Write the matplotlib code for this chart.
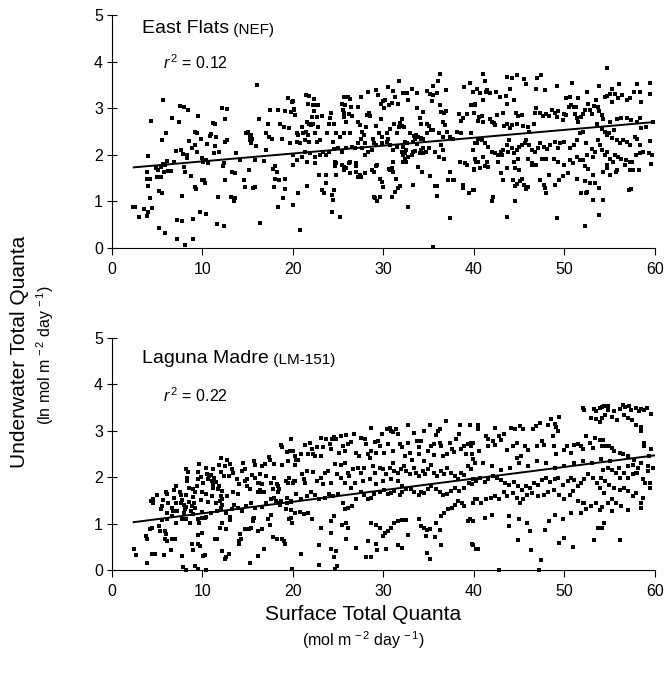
import matplotlib
matplotlib.use("Agg")
import matplotlib.pyplot as plt

plt.rcParams['font.family'] = ['Liberation Sans', 'DejaVu Sans']
plt.rcParams['mathtext.fontset'] = 'custom'
plt.rcParams['mathtext.rm'] = 'Liberation Sans'
plt.rcParams['mathtext.it'] = 'Liberation Sans:italic'

# ---------------- data: East Flats (NEF) ----------------
nef_pts_low_x = [
(2.32,0.87),(2.5,0.87),(3.0,0.66),(3.5,0.84),(3.9,0.69),(3.98,0.77),(4.2,1.07),(4.45,0.85),(4.0,1.33),(3.9,1.49),
(4.2,1.49),(3.9,1.64),(4.0,1.98),(4.35,2.72),(5.2,1.23),(5.5,1.17),(5.2,0.42),(5.9,0.33),(5.6,3.17),(5.5,2.32),
(6.0,2.46),(4.9,1.71),(5.1,1.67),(5.0,1.52),(5.4,1.52),(5.45,1.73),(5.6,1.8),(5.75,1.64),(5.9,1.78),(6.2,1.66),
(6.1,1.87),(6.5,1.65),(6.6,2.78),(6.9,1.85),(7.2,0.61),(7.7,0.58),(7.2,0.2),(7.5,3.04),(7.95,3.02),(8.4,2.96),
(7.4,2.7),(7.1,2.08),(7.6,2.1),(7.7,1.11),(7.85,2.01),(7.95,1.73),(8.1,1.64),(8.1,0.06),(8.25,2.0),(8.3,1.93),
(8.5,2.3),(8.7,1.54),(8.8,2.15),(8.95,0.63),(8.95,0.2),(9.15,1.3),(9.2,2.5),(9.2,2.21),(9.3,1.26),(9.4,2.47),
(9.4,2.07),(9.5,2.83),(9.7,0.78),(9.8,2.35),(9.9,1.46),(10.0,1.93),(10.2,1.47),(10.3,1.4),(10.4,0.74),(10.05,1.84),
(10.4,1.89),(10.5,2.23),(10.6,1.82),(10.8,2.4),(10.97,2.45),(11.16,2.68),(11.4,2.67),(11.4,2.18),(11.3,2.03),(11.5,2.39),
(11.6,0.52),(11.7,1.1),(11.8,2.07),(12.2,3.0),(12.4,0.48),(12.5,1.47),(12.5,2.76),(12.5,2.28),(12.7,2.98),(12.7,2.32),
(12.3,1.76),(12.4,1.82),(13.2,1.09),(13.3,1.64),(13.5,1.0),(13.55,1.6),(13.6,1.07),(13.7,2.03),(14.1,1.89),(14.6,1.47),
(14.7,1.31),(14.8,2.46),(15.0,2.5),(15.1,1.67),(15.3,2.32),(15.4,2.25),(15.45,2.35),(15.2,2.4),(15.4,2.42),(15.6,1.28),
(15.8,1.31),(15.8,1.88),(15.95,2.19),(16.2,2.76),(16.4,0.54),(16.8,1.86),(17.05,2.1),(17.05,2.47),(17.2,2.67),(17.4,2.39),
(17.5,2.96),(17.7,2.35),(17.8,1.7),(17.9,1.31),(18.0,1.77),(18.0,1.49),(18.2,1.64),(18.4,0.89),(18.4,2.96),(18.5,1.47),
(18.6,2.67),(18.8,2.35),(18.9,1.07),(19.0,2.6),(19.1,1.26),(19.15,2.95),(19.15,1.49),(19.45,3.21),(19.6,2.57),(19.7,2.25),
(19.8,2.91),(19.9,3.14),(19.95,0.92),(19.95,2.0),(20.1,2.98),(20.4,2.46),(20.5,1.17),(16.0,3.5),
]
nef_pts_mid_x = [
(20.0,3.16),(20.1,2.96),(20.2,2.85),(21.4,3.28),(21.7,3.1),(22.3,3.19),(22.2,3.07),(22.5,3.07),(22.8,3.07),(22.3,2.95),
(22.1,2.82),(21.5,2.71),(21.8,2.67),(22.0,2.64),(22.2,2.66),(22.6,2.82),(23.2,2.83),(21.0,2.6),(21.15,2.46),(21.4,2.5),
(20.6,2.42),(20.4,2.28),(20.8,2.25),(21.3,2.32),(21.7,2.42),(21.8,2.28),(22.4,2.46),(22.6,2.28),(23.0,2.32),(22.8,2.6),
(23.8,2.47),(24.0,2.67),(24.2,2.9),(24.1,2.78),(24.5,2.67),(24.4,2.28),(25.4,3.1),(25.6,3.23),(25.7,3.07),(25.5,2.96),
(25.6,2.89),(25.6,2.82),(26.1,3.25),(26.3,3.19),(26.4,3.03),(26.2,2.87),(26.5,2.83),(25.9,2.71),(25.6,2.46),(26.3,2.46),
(25.2,2.39),(24.8,2.47),(27.2,3.02),(27.5,3.25),(27.2,2.71),(27.4,2.64),(27.6,2.5),(27.8,2.42),(28.1,2.6),(28.2,2.85),
(28.4,2.89),(28.5,2.83),(28.3,3.35),(27.5,2.33),(28.0,2.25),(28.8,2.35),(29.0,2.26),(29.2,2.62),(29.4,3.28),(29.7,3.09),
(29.7,2.76),(30.0,3.16),(30.2,3.18),(30.1,3.0),(30.6,3.07),(30.9,3.12),(31.3,3.23),(31.6,3.1),(31.8,2.69),(32.0,2.76),
(32.1,2.62),(32.3,2.59),(31.75,2.59),(31.5,2.46),(31.2,2.67),(30.7,2.55),(30.5,2.35),(30.35,2.46),(29.8,2.39),(29.5,2.46),
(32.7,3.18),(32.6,3.32),(32.2,3.32),(33.7,3.33),(33.7,3.0),(34.4,2.92),(34.0,2.78),(34.2,2.67),(34.8,2.67),(35.0,2.62),
(35.2,2.53),(35.1,3.3),(35.5,3.28),(35.4,3.16),(35.9,3.32),(36.2,3.07),(36.4,2.92),(36.7,2.89),(36.9,2.95),(36.6,2.71),
(36.8,2.64),(37.0,2.5),(37.3,2.39),(37.7,2.35),(38.1,2.5),(38.3,2.87),(38.6,2.73),(38.8,2.78),(39.2,2.87),(39.7,3.07),
(40.1,3.09),(38.6,2.46),(39.7,2.46),(40.1,2.25),(40.5,2.35),(33.4,2.4),(33.6,2.42),(33.85,2.39),(34.1,2.37),(34.4,2.35),
(32.9,2.46),(32.6,2.25),(32.4,2.28),(32.2,2.17),(32.0,2.07),(32.2,2.0),(32.4,1.92),(32.5,2.1),(31.5,2.17),(31.1,2.1),
(30.7,2.21),(30.35,2.28),(29.8,2.25),(29.2,2.21),(28.7,2.1),(28.3,2.07),(28.0,2.0),(27.6,2.14),(27.2,2.25),(26.85,2.14),
(26.5,2.17),(25.9,2.14),(25.4,2.07),(25.0,2.14),(24.5,2.12),(24.0,2.07),(23.35,2.07),(23.0,2.0),(22.4,1.96),(21.9,2.03),
(21.3,2.07),(21.0,1.96),(20.4,1.89),(20.0,1.78),(21.5,1.85),(22.4,1.82),(23.6,2.0),(24.6,1.85),(24.8,1.82),(25.4,1.78),
(25.6,1.73),(26.2,1.83),(27.0,1.75),(27.0,1.64),(27.4,1.57),(27.2,1.52),(27.5,1.53),(28.7,1.67),(28.9,1.64),(29.2,1.75),
(29.6,1.49),(29.8,1.42),(30.0,1.3),(30.7,1.67),(30.9,1.71),(31.1,1.85),(31.0,1.64),(30.6,1.69),(31.4,1.49),(31.65,1.28),
(31.8,1.32),(29.6,1.1),(29.1,1.07),(29.3,1.01),(28.9,1.1),(30.9,1.1),(31.3,1.21),(32.7,0.89),(33.3,1.35),(33.85,1.73),
(34.3,1.64),(34.4,2.03),(34.7,2.07),(35.0,2.14),(35.1,1.55),(35.7,1.33),(35.95,1.32),(35.9,1.12),(36.4,2.21),(36.6,2.1),
(36.7,1.92),(37.1,1.47),(37.3,1.64),(37.7,1.46),(37.8,1.47),(38.5,1.85),(38.75,1.35),(38.8,1.28),(39.0,1.82),(39.2,1.78),
(39.4,1.17),(39.5,1.17),(39.85,1.24),(40.0,1.69),(40.2,1.85),(37.35,0.64),(24.3,0.78),(25.2,0.66),(20.0,0.92),(20.8,0.39),
(23.4,1.17),(23.6,1.39),(23.2,1.24),(23.7,1.57),(24.3,1.14),(24.5,1.24),(24.4,1.03),(22.9,1.57),(21.6,1.32),(20.5,1.17),
(24.6,1.76),(24.8,1.57),(25.6,1.67),(25.9,1.71),(26.3,1.85),(27.0,1.82),(26.3,1.6),(28.0,1.6),(29.3,1.78),(32.4,2.03),
(32.2,1.85),(32.7,1.96),(33.5,2.09),(34.05,2.03),(34.2,2.1),(34.4,2.14),(35.7,2.05),(36.1,1.96),(36.6,2.39),(36.1,2.47),
(35.5,2.53),(34.8,2.46),(34.2,2.33),(33.7,2.23),(33.3,2.28),(33.5,2.35),(33.3,2.07),(33.1,2.0),(32.5,1.85),(35.5,0.02),
]
nef_pts_high_x = [
(40.1,3.07),(39.9,3.35),(40.7,3.32),(41.0,3.18),(41.3,3.35),(41.8,3.32),(42.4,3.35),(42.9,3.25),(43.5,3.26),(44.4,3.18),
(43.7,3.1),(40.0,2.89),(40.6,2.82),(40.85,2.83),(41.0,2.71),(40.4,2.73),(41.8,2.76),(42.0,2.71),(42.2,2.69),(42.3,2.64),
(42.6,2.85),(43.25,2.9),(43.3,2.62),(43.6,2.67),(44.0,2.57),(44.2,2.64),(44.6,2.89),(44.9,2.83),(45.3,2.85),(44.7,2.67),
(45.45,2.62),(46.0,2.59),(46.1,2.5),(46.6,2.67),(46.7,2.89),(46.9,3.0),(47.3,2.89),(47.6,2.83),(48.0,2.87),(48.3,2.83),
(48.6,2.96),(48.95,2.9),(49.2,2.82),(49.3,2.95),(49.95,2.87),(49.8,2.75),(50.2,2.85),(50.5,3.02),(50.7,3.07),(51.0,3.03),
(51.3,3.02),(51.2,2.87),(51.35,2.78),(51.5,2.71),(51.8,2.82),(52.1,2.87),(52.3,2.96),(52.6,3.1),(52.8,2.96),(53.0,2.87),
(53.3,3.05),(53.5,3.18),(53.7,3.03),(53.85,2.93),(54.1,2.85),(54.3,2.76),(54.5,3.23),(54.7,3.26),(55.0,3.3),(55.3,3.14),
(55.6,3.3),(55.9,3.21),(56.4,3.28),(56.9,3.18),(57.2,3.21),(57.7,3.35),(58.5,3.14),(58.35,3.35),(51.5,3.21),(50.6,3.23),
(50.2,3.21),(55.8,2.76),(56.3,2.78),(56.9,2.78),(57.4,2.75),(58.0,2.71),(58.35,2.78),(53.6,2.67),(55.0,2.71),(54.1,2.55),
(54.5,2.5),(54.7,2.42),(54.95,2.47),(55.2,2.37),(55.5,2.53),(55.8,2.32),(56.1,2.25),(56.5,2.32),(56.9,2.28),(57.2,2.21),
(57.8,2.39),(58.05,2.35),(58.35,2.21),(58.5,2.57),(53.7,2.32),(53.9,2.21),(54.2,2.1),(54.5,1.99),(54.7,2.07),(55.0,1.92),
(55.4,1.85),(55.6,1.99),(55.95,1.96),(56.3,1.92),(56.8,1.89),(57.2,1.85),(57.5,1.85),(57.9,1.99),(58.3,2.03),(58.7,2.07),
(59.3,2.03),(57.6,1.67),(58.2,1.67),(57.2,1.67),(56.7,1.78),(55.8,1.67),(54.7,1.78),(54.3,1.64),(53.2,1.96),(52.5,1.99),
(52.1,1.89),(52.3,1.76),(52.6,1.69),(53.4,2.07),(53.0,2.12),(52.4,2.25),(52.1,2.5),(51.7,2.46),(51.35,2.32),(51.05,2.21),
(50.6,2.14),(49.9,2.28),(49.5,2.25),(49.3,2.14),(48.95,2.28),(48.4,2.21),(48.1,2.12),(47.7,2.17),(47.3,2.25),(47.1,2.14),
(46.7,2.07),(46.4,2.1),(46.1,2.21),(45.8,2.32),(45.6,2.25),(45.3,2.21),(45.0,2.16),(44.7,2.1),(44.4,2.03),(44.2,2.14),
(43.9,2.32),(43.7,2.21),(43.25,2.1),(42.95,2.07),(42.7,2.0),(42.3,2.03),(41.95,2.07),(41.6,2.16),(41.2,2.25),(40.85,2.32),
(40.3,2.25),(39.9,2.1),(40.1,1.92),(40.5,1.85),(41.0,1.96),(41.4,1.85),(40.7,1.71),(41.2,1.76),(41.6,1.73),(42.7,1.85),
(43.1,2.0),(43.8,2.07),(44.4,1.85),(44.9,1.92),(46.0,1.92),(46.4,1.82),(46.9,1.78),(47.5,1.92),(48.0,1.92),(48.8,1.92),
(49.3,1.85),(49.9,1.78),(50.6,1.89),(51.35,1.96),(51.7,1.89),(40.0,1.67),(40.0,1.24),(42.1,1.1),(41.95,1.0),(42.95,1.6),
(43.2,1.47),(44.35,1.46),(44.5,1.32),(44.8,1.37),(45.1,1.44),(45.3,1.49),(45.5,1.35),(45.8,1.26),(46.0,1.3),(45.0,1.67),
(44.5,1.71),(43.7,1.71),(46.4,1.78),(47.3,1.46),(47.7,1.35),(47.85,1.28),(48.0,1.19),(48.3,1.57),(48.95,1.35),(49.4,1.46),
(49.8,1.55),(50.4,1.62),(50.9,1.82),(51.35,1.49),(51.8,1.17),(52.3,1.44),(52.5,1.21),(52.8,1.4),(53.2,1.57),(53.4,1.39),
(53.85,1.28),(54.3,1.03),(54.7,1.71),(55.0,1.57),(55.7,1.64),(57.1,1.24),(57.4,1.26),(43.6,0.67),(44.5,1.0),(49.2,0.64),
(52.3,0.47),(53.85,0.71),(53.1,1.04),(52.4,1.19),(59.0,2.6),(59.5,2.3),(59.7,2.0),(59.6,1.8),(59.4,3.3),(59.8,2.7),
]
nef_pts_top = [
(21.8,3.26),(31.7,3.58),(36.3,3.74),(41.0,3.74),(43.7,3.67),(44.2,3.65),(44.8,3.72),(45.5,3.62),(47.4,3.72),(47.0,3.64),
(54.7,3.87),(52.5,3.35),(56.0,3.52),(58.0,3.52),(59.4,3.55),(55.2,3.42),(39.6,3.55),(41.2,3.58),(38.9,3.45),(40.3,3.42),
(41.4,3.4),(35.5,3.47),(36.9,3.4),(34.8,3.37),(33.2,3.42),(30.5,3.45),(31.1,3.38),(29.2,3.4),(32.5,3.33),(36.0,3.58),
(44.0,3.42),(47.8,3.4),(50.8,3.55),(49.2,3.47),(45.7,3.51),(46.9,3.42),(53.8,3.47),
]
nef_fit = [0.0169, 1.69]   # slope, intercept
nef_r2 = "0.12"

# ---------------- data: Laguna Madre (LM-151) ----------------
lm_pts_low_x = [
(2.45,0.46),(2.63,0.32),(3.92,0.16),(4.77,0.34),(4.4,0.35),(5.77,0.32),(4.18,0.89),(4.4,0.91),(3.81,0.73),(3.92,0.66),
(4.48,1.45),(4.55,1.54),(4.29,1.49),(4.92,1.61),(5.21,0.95),(5.29,0.84),(5.58,1.08),(5.4,1.31),(5.66,1.51),(5.95,1.68),
(6.13,1.63),(6.24,1.45),(5.88,0.84),(5.88,0.66),(6.13,0.62),(6.5,0.44),(6.02,0.77),(6.61,0.67),(6.98,0.67),(7.79,0.3),
(7.87,0.07),(8.16,0.01),(6.13,1.09),(6.61,1.16),(6.69,1.27),(7.13,1.27),(7.05,1.44),(7.61,1.45),(6.87,1.56),(6.87,1.72),
(7.05,1.8),(7.5,1.68),(8.16,1.61),(8.34,1.99),(8.34,1.92),(8.45,2.11),(8.16,2.17),(7.61,1.61),(7.79,1.51),(7.98,1.39),
(8.09,1.31),(8.23,1.36),(8.53,1.46),(8.82,1.38),(9.08,1.44),(9.19,1.34),(8.97,1.58),(9.19,1.67),(9.34,1.8),(9.45,1.95),
(9.56,2.11),(9.82,2.01),(10.08,1.88),(10.0,1.67),(9.82,1.51),(9.93,1.25),(10.3,1.11),(10.44,1.15),(9.93,0.79),(9.56,0.75),
(9.45,0.55),(9.71,0.52),(8.82,0.57),(8.97,0.44),(10.08,0.3),(10.3,0.32),(9.45,0.03),(10.44,0.01),(9.19,0.09),(10.55,2.06),
(10.66,1.95),(10.74,2.02),(10.92,2.04),(11.03,1.92),(11.18,1.85),(11.11,1.77),(11.29,1.99),(11.47,1.9),(11.66,1.74),(11.84,1.82),
(12.03,1.59),(11.92,1.49),(12.21,1.52),(12.21,1.41),(10.66,1.46),(11.03,1.59),(11.47,1.45),(12.03,2.11),(12.03,1.34),(12.14,1.02),
(11.92,0.91),(11.55,0.67),(11.33,0.66),(12.21,0.41),(12.51,0.23),(12.65,0.27),(12.95,0.34),(12.58,0.88),(13.02,1.15),(13.02,1.08),
(12.95,2.02),(13.32,2.1),(13.24,2.18),(12.76,2.38),(13.02,2.28),(12.4,2.02),(13.98,1.63),(14.13,0.77),(14.24,0.67),(14.05,0.62),
(14.05,0.55),(14.72,0.88),(15.16,0.88),(15.34,0.91),(15.23,0.16),(14.42,2.13),(14.72,2.18),(14.72,1.92),(14.87,1.82),(15.23,1.75),
(15.71,2.35),(15.82,2.26),(15.82,1.99),(16.08,1.88),(16.26,1.87),(16.34,1.72),(16.45,1.67),(16.19,1.67),(15.53,1.09),(15.6,1.06),
(15.71,1.11),(16.08,0.84),(16.56,0.88),(16.19,0.3),(16.81,0.46),(16.63,2.23),(16.93,2.28),(17.37,2.44),(17.44,2.38),(17.92,2.28),
(17.92,1.99),(18.18,1.85),(18.4,1.82),(18.47,1.75),(18.4,1.67),(18.11,1.49),(18.29,1.44),(17.29,1.09),(17.44,0.98),(17.55,1.18),
(17.74,0.7),(18.18,0.67),(18.77,0.66),(19.14,0.55),(19.03,0.62),(18.66,2.69),(18.84,2.66),(19.39,2.54),(19.65,2.56),(19.76,2.82),
(19.5,2.35),(18.84,2.26),(19.21,1.92),(19.5,1.88),(19.39,1.56),(19.21,1.31),(19.76,1.11),(19.94,1.02),(20.13,1.92),(19.76,1.49),
(19.39,1.45),(18.66,1.49),(18.55,1.41),(7.79,1.09),(8.16,1.09),(8.6,1.02),(8.9,1.2),(8.71,1.27),(9.45,1.09),(9.63,1.02),
(9.93,1.11),(7.05,1.02),(6.13,1.23),(5.58,1.38),(6.61,1.34),(7.98,1.23),(10.92,1.23),(11.55,1.27),(12.65,1.23),(13.24,1.32),
(13.5,1.41),(13.87,1.34),(14.35,1.27),(14.79,1.38),(15.34,1.45),(15.82,1.34),(16.63,1.36),(17.0,1.45),(17.55,1.52),(17.92,1.56),
(13.76,1.95),(14.05,1.85),(13.32,1.67),(12.76,1.59),(12.21,1.7),(10.37,1.63),(8.9,1.74),(8.53,1.77),(12.51,2.24),(12.03,2.42),
(11.84,2.26),(11.11,2.17),(10.37,2.2),(9.63,2.28),(14.5,2.31),(14.97,1.97),(15.45,2.04),(16.34,2.06),(17.0,2.03),(17.55,1.88),
(17.74,1.74),(16.63,1.85),(16.81,1.67),
]
lm_pts_mid_x = [
(19.8,2.82),(20.0,2.56),(20.35,2.38),(20.2,2.46),(19.6,1.99),(20.0,1.88),(20.2,1.92),(21.0,2.06),(21.2,1.95),(21.3,1.88),
(21.9,2.73),(22.2,2.49),(22.4,2.46),(22.1,2.61),(23.1,2.46),(23.3,2.64),(23.1,2.85),(23.6,2.82),(24.1,2.71),(24.3,2.83),
(24.8,2.82),(24.5,2.87),(25.3,2.89),(25.9,2.9),(25.5,2.67),(26.1,2.71),(26.4,2.76),(26.7,2.94),(27.5,2.85),(28.0,2.83),
(28.1,2.71),(28.6,3.05),(29.1,2.76),(29.4,2.78),(29.6,2.67),(29.8,2.94),(30.4,3.03),(30.7,3.07),(30.85,3.0),(31.1,2.97),
(31.4,3.03),(31.6,2.92),(31.8,2.71),(32.1,2.64),(32.7,3.12),(33.4,2.96),(33.7,2.78),(34.1,2.78),(34.5,3.0),(35.1,3.12),
(35.8,2.9),(36.0,3.0),(36.3,3.03),(36.9,3.21),(37.6,2.61),(37.8,2.54),(38.4,2.92),(38.5,3.12),(38.95,2.67),(39.3,2.71),
(39.6,3.12),(39.7,2.67),(39.9,2.73),(36.2,2.74),(35.3,2.67),(35.6,2.47),(36.6,2.46),(37.0,2.49),(21.3,2.69),(20.9,2.51),
(20.5,2.38),(21.7,2.49),(22.7,2.64),(20.2,2.26),(21.5,2.13),(22.2,2.11),(22.7,1.92),(23.1,1.99),(23.5,2.1),(23.3,1.85),
(24.2,1.88),(24.6,2.28),(25.3,2.26),(25.7,2.3),(26.1,2.1),(26.2,2.03),(26.6,2.18),(27.2,2.2),(27.5,2.1),(27.9,2.2),
(28.3,2.49),(28.5,2.42),(28.8,2.24),(29.1,2.1),(29.6,2.2),(30.0,2.17),(30.3,2.06),(30.7,2.2),(31.0,2.31),(31.2,2.13),
(31.6,2.1),(31.95,2.17),(32.3,2.24),(32.5,2.13),(32.9,2.06),(33.35,2.2),(33.6,2.1),(33.9,2.03),(34.35,2.13),(34.6,2.06),
(34.9,2.17),(35.3,2.26),(35.6,2.1),(35.97,2.03),(36.4,2.13),(36.7,2.06),(37.0,2.2),(37.5,2.1),(37.85,2.03),(38.2,1.95),
(38.6,2.1),(38.95,2.04),(39.3,2.24),(39.7,2.17),(40.1,2.31),(39.9,1.95),(39.5,1.88),(38.9,1.77),(38.4,1.7),(37.85,1.77),
(37.5,1.7),(37.0,1.63),(36.6,1.61),(36.2,1.67),(35.8,1.75),(35.3,1.81),(34.9,1.74),(34.5,1.65),(34.2,1.68),(33.9,1.61),
(33.4,1.67),(33.0,1.74),(32.5,1.75),(32.1,1.68),(31.8,1.61),(31.2,1.7),(30.85,1.65),(30.5,1.63),(30.1,1.72),(29.6,1.67),
(29.0,1.63),(28.6,1.56),(28.3,1.54),(27.9,1.61),(27.5,1.67),(27.0,1.52),(26.5,1.38),(26.1,1.34),(25.8,1.31),(25.5,1.45),
(24.95,1.63),(24.4,1.59),(24.0,1.63),(23.5,1.56),(22.9,1.52),(22.45,1.61),(22.0,1.67),(21.5,1.59),(20.9,1.52),(20.35,1.63),
(19.8,1.47),(19.8,1.29),(19.6,1.09),(20.2,1.23),(20.8,1.25),(21.2,1.2),(21.7,1.23),(22.1,1.09),(23.1,0.91),(24.2,1.06),
(24.5,1.16),(25.4,0.98),(25.9,1.02),(26.1,0.91),(28.3,0.62),(28.6,1.02),(29.2,0.98),(29.6,0.91),(29.9,0.73),(30.2,0.8),
(30.5,0.84),(30.85,0.91),(31.2,1.02),(31.6,1.06),(32.1,1.08),(32.5,1.08),(33.9,1.09),(34.2,0.95),(34.5,0.91),(34.8,0.86),
(35.1,0.88),(35.8,1.02),(36.4,1.16),(36.7,1.23),(37.1,1.31),(37.55,1.34),(37.85,1.41),(38.2,1.49),(38.7,1.45),(38.95,1.38),
(39.3,1.06),(39.6,1.09),(39.9,1.45),(40.1,1.52),(36.3,0.86),(35.7,0.72),(34.7,0.73),(32.7,0.75),(31.6,0.53),(32.0,0.48),
(30.3,0.45),(29.2,0.55),(28.6,0.29),(29.3,0.43),(27.0,0.48),(25.9,0.66),(24.2,0.8),(24.15,0.46),(24.5,0.29),(24.8,0.41),
(22.9,0.53),(20.9,0.34),(22.9,0.1),(24.9,0.09),(24.6,0.03),(28.1,0.27),(34.8,0.37),(35.1,0.24),(36.4,0.53),(39.9,0.53),
(40.2,0.46),(32.1,1.81),(31.6,1.92),(30.85,1.95),(29.9,1.92),(29.2,1.85),(28.5,1.95),(27.7,1.92),(26.8,1.88),(26.4,1.77),
(25.7,1.88),(25.3,1.99),(24.9,2.06),(23.85,2.13),(24.2,2.6),(25.1,2.53),(25.8,2.56),(27.0,2.53),(27.35,2.46),(28.6,2.56),
(29.2,2.53),(30.1,2.53),(30.5,2.71),(31.1,2.56),(32.4,2.46),(32.9,2.53),(33.2,2.38),(33.98,2.49),(34.5,2.35),(34.9,2.56),
(33.98,2.64),(32.7,2.74),(35.6,2.71),(36.4,2.67),(37.3,2.74),(38.0,2.83),(38.6,2.6),(39.1,2.49),(39.9,2.4),(19.9,0.03),
]
lm_pts_high_x = [
(52.0,3.49),(52.2,3.44),(53.3,3.46),(53.5,3.42),(53.9,3.49),(54.1,3.51),(54.4,3.54),(54.8,3.53),(54.8,3.44),(55.5,3.42),
(56.1,3.46),(56.45,3.56),(56.7,3.51),(57.1,3.54),(57.4,3.44),(57.9,3.49),(58.2,3.42),(58.5,3.47),(58.8,3.44),(59.1,3.49),
(59.6,3.37),(52.9,3.28),(53.5,3.26),(53.9,3.18),(54.2,3.28),(54.5,3.33),(55.2,3.3),(55.8,3.24),(56.6,3.35),(57.0,3.28),
(57.5,3.24),(57.9,3.13),(58.5,3.08),(58.5,2.99),(58.8,2.74),(58.8,2.68),(39.7,2.74),(40.4,3.13),(40.4,3.03),(39.8,2.49),
(40.6,2.56),(41.3,2.88),(41.5,2.82),(41.6,2.67),(42.1,2.77),(42.3,2.7),(42.3,3.06),(42.8,2.88),(43.0,2.81),(43.3,2.92),
(43.6,2.59),(44.1,3.06),(44.5,3.03),(44.3,2.67),(44.8,2.74),(45.1,3.1),(45.4,3.03),(44.8,2.41),(45.2,2.45),(45.6,2.67),
(46.0,2.58),(46.5,3.03),(46.9,3.1),(47.0,2.68),(47.35,3.17),(47.5,2.77),(47.7,2.7),(48.2,3.13),(48.5,3.26),(48.9,3.15),
(49.1,3.08),(49.45,3.3),(49.3,2.99),(48.7,2.88),(48.8,2.68),(49.1,2.49),(50.0,2.59),(50.3,2.67),(50.7,2.52),(51.1,2.7),
(51.5,2.72),(51.8,2.68),(52.0,2.61),(52.4,2.88),(52.8,2.74),(53.1,2.63),(53.4,2.85),(53.98,2.81),(54.3,2.8),(54.2,2.68),
(54.6,2.68),(54.97,2.67),(55.2,2.63),(55.5,2.56),(56.1,2.52),(56.45,2.49),(57.0,2.45),(57.6,2.27),(57.7,2.38),(58.1,2.2),
(58.5,2.31),(59.2,2.24),(58.9,1.88),(57.9,2.09),(57.6,2.06),(57.0,1.98),(56.6,2.09),(56.1,1.98),(55.7,2.09),(55.2,2.16),
(54.8,2.2),(54.3,2.16),(54.05,1.98),(54.5,1.91),(54.97,1.84),(55.5,1.77),(56.1,1.72),(56.6,1.77),(57.0,1.7),(57.6,1.59),
(57.9,1.65),(58.5,1.45),(58.7,1.55),(54.4,1.66),(53.9,1.77),(53.6,1.88),(53.1,1.98),(52.6,2.06),(52.2,1.95),(51.8,1.88),
(51.5,1.8),(51.1,1.93),(50.7,1.98),(50.4,1.91),(49.8,1.84),(49.3,1.98),(48.9,1.95),(48.45,1.89),(47.98,1.98),(47.5,1.93),
(47.05,1.84),(46.6,1.88),(46.2,1.77),(45.8,1.82),(45.3,1.73),(44.85,1.8),(44.4,1.89),(43.9,1.84),(43.45,1.88),(43.0,1.93),
(42.6,1.98),(42.1,2.02),(41.6,1.95),(41.2,1.89),(40.7,1.98),(40.2,1.91),(39.8,1.86),(40.35,1.52),(40.8,1.44),(41.3,1.52),
(41.9,1.55),(42.3,1.59),(42.8,1.52),(43.3,1.67),(43.7,1.6),(44.3,1.66),(44.8,1.55),(45.1,1.44),(45.4,1.52),(45.9,1.62),
(46.4,1.66),(47.05,1.59),(47.7,1.62),(48.2,1.67),(48.8,1.73),(49.45,1.62),(50.0,1.52),(50.6,1.62),(50.9,1.7),(51.5,1.48),
(52.0,1.44),(52.4,1.32),(52.95,1.37),(53.5,1.44),(53.9,1.3),(54.2,1.36),(54.8,1.44),(55.3,1.52),(55.7,1.44),(55.2,1.27),
(56.3,1.37),(57.0,1.3),(58.5,1.34),(39.9,1.05),(41.2,1.12),(41.97,1.19),(43.9,1.16),(45.0,1.09),(45.9,1.01),(48.3,1.05),
(48.97,1.19),(49.8,1.09),(50.7,1.23),(51.8,1.23),(39.8,0.55),(40.4,0.45),(43.9,0.94),(44.9,0.65),(46.2,0.83),(46.3,0.44),
(47.4,0.21),(47.8,0.87),(49.45,0.58),(50.0,0.69),(50.9,0.5),(53.3,0.64),(53.7,0.91),(54.1,0.91),(54.35,1.01),(56.1,0.64),
(47.2,0.0),(42.8,0.0),(52.2,1.44),(58.7,1.95),(59.2,2.13),(59.4,1.88),(59.5,1.77),(59.6,2.6),(59.3,2.45),(59.8,2.2),
(41.0,2.3),(42.0,2.25),(43.0,2.15),(44.0,2.2),(45.0,2.3),(46.0,2.25),(47.0,2.35),(48.0,2.3),(49.0,2.2),(50.0,2.25),
(51.0,2.3),(52.0,2.35),(53.0,2.3),(54.0,2.4),(55.0,2.35),(56.0,2.2),(57.0,2.25),(58.0,2.1),
]
lm_fit = [0.0250, 0.97]   # slope, intercept
lm_r2 = "0.22"

fit_x_range = [2.4, 60.0]
x_ticks = [0, 10, 20, 30, 40, 50, 60]
y_ticks = [0, 1, 2, 3, 4, 5]

# ---------------- figure ----------------
fig = plt.figure(figsize=(6.65, 6.8), dpi=100)
ax1 = fig.add_axes([0.1684, 0.6353, 0.8165, 0.3426])
ax2 = fig.add_axes([0.1684, 0.1618, 0.8165, 0.3412])


def draw_panel(ax, pts_lists, fit, r2, title, code, title_y, r2_y):
    xs, ys = [], []
    for pts in pts_lists:
        for x, y in pts:
            xs.append(x)
            ys.append(y)
    ax.scatter(xs, ys, s=5.5, marker='s', c='black', linewidths=0, clip_on=False, zorder=3)
    fx = list(fit_x_range)
    fy = [fit[0] * v + fit[1] for v in fx]
    ax.plot(fx, fy, color='black', lw=1.4, zorder=4)
    ax.set_xlim(0, 60)
    ax.set_ylim(0, 5)
    ax.set_xticks(x_ticks)
    ax.set_yticks(y_ticks)
    for s in ['top', 'right']:
        ax.spines[s].set_visible(False)
    for s in ['left', 'bottom']:
        ax.spines[s].set_linewidth(0.8)
    ax.tick_params(axis='y', direction='inout', length=7, width=0.8, labelsize=11.5, pad=3)
    ax.tick_params(axis='x', direction='out', length=5, width=0.8, labelsize=11.5, pad=5)
    t = ax.text(3.3, title_y, title, fontsize=14, va='baseline', ha='left')
    ax.annotate(' ' + code, xy=(1, 0), xycoords=t, fontsize=11, va='bottom', ha='left')
    ax.text(5.6, r2_y, r'$r^{\,2}$ = ' + r2, fontsize=11.5, va='center', ha='left')


draw_panel(ax1, [nef_pts_low_x, nef_pts_mid_x, nef_pts_high_x, nef_pts_top], nef_fit, nef_r2,
           'East Flats', '(NEF)', 4.62, 3.97)
draw_panel(ax2, [lm_pts_low_x, lm_pts_mid_x, lm_pts_high_x], lm_fit, lm_r2,
           'Laguna Madre', '(LM-151)', 4.47, 3.75)

fig.text(20 / 665, 1 - 352 / 680, 'Underwater Total Quanta', rotation=90, fontsize=15,
         ha='center', va='center')
fig.text(45 / 665, 1 - 355 / 680, r'(ln mol m$^{\,-2}$ day$^{\,-1}$)', rotation=90, fontsize=11.5,
         ha='center', va='center')
fig.text(363 / 665, 1 - 615 / 680, 'Surface Total Quanta', fontsize=15, ha='center', va='center')
fig.text(363 / 665, 1 - 640 / 680, r'(mol m$^{\,-2}$ day$^{\,-1}$)', fontsize=11.5, ha='center', va='center')

fig.savefig('out.png', dpi=100)
